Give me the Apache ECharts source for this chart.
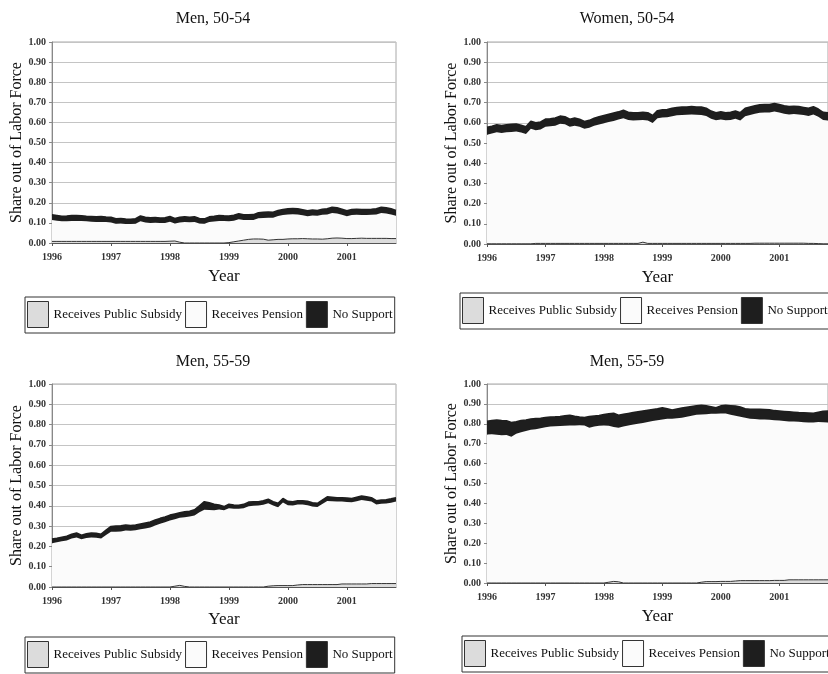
<!DOCTYPE html>
<html>
<head>
<meta charset="utf-8">
<script src="https://cdn.jsdelivr.net/npm/echarts@6/dist/echarts.min.js"></script>
<style>
  html, body { margin: 0; padding: 0; background: #ffffff; }
  #chart { width: 828px; height: 674px; }
</style>
</head>
<body>
<div id="chart"></div>
<script>
// Monthly shares of the labor force out of work, Jan 1996 - Nov 2001
const years = ['1996', '1997', '1998', '1999', '2000', '2001'];
const monthCount = 71;
const yTicks = [0, 0.1, 0.2, 0.3, 0.4, 0.5, 0.6, 0.7, 0.8, 0.9, 1.0];
const seriesNames = ['Receives Public Subsidy', 'Receives Pension', 'No Support'];
const panelTitles = ['Men, 50-54', 'Women, 50-54', 'Men, 55-59', 'Men, 55-59'];

// Men, 50-54
const men5054Subsidy = [
  .008,.008,.008,.008,.008,.008,.008,.008,.008,.008,.008,.008,
  .008,.008,.008,.008,.008,.008,.008,.008,.008,.008,.008,.008,
  .009,.010,.004,.000,.000,.000,.000,.000,.000,.000,.000,.000,
  .002,.006,.010,.014,.018,.020,.020,.019,.014,.016,.018,.018,
  .020,.021,.021,.022,.021,.020,.020,.019,.021,.024,.025,.024,
  .022,.022,.023,.024,.023,.023,.023,.023,.023,.022,.022
];
const men5054Pension = [
  .106,.103,.100,.100,.102,.102,.101,.100,.098,.097,.097,.096,
  .094,.088,.089,.087,.086,.088,.100,.094,.092,.093,.091,.092,
  .097,.087,.098,.104,.103,.104,.097,.096,.104,.107,.110,.109,
  .106,.105,.108,.100,.096,.094,.103,.106,.112,.110,.116,.121,
  .122,.122,.121,.116,.112,.117,.115,.121,.121,.125,.122,.116,
  .111,.117,.117,.115,.116,.117,.119,.126,.124,.120,.113
];
const men5054None = [
  .026,.026,.025,.026,.026,.027,.026,.025,.026,.025,.026,.025,
  .026,.024,.025,.024,.024,.025,.026,.026,.025,.026,.025,.026,
  .026,.025,.026,.026,.025,.026,.025,.024,.026,.026,.027,.026,
  .026,.027,.027,.026,.026,.027,.027,.028,.028,.027,.028,.028,
  .028,.028,.028,.027,.027,.027,.027,.028,.028,.029,.028,.028,
  .027,.028,.028,.027,.028,.028,.028,.029,.028,.028,.027
];

// Women, 50-54
const women5054Subsidy = [
  .001,.001,.001,.001,.001,.001,.001,.001,.001,.001,.003,.003,
  .003,.003,.003,.003,.003,.003,.003,.003,.003,.003,.003,.003,
  .003,.003,.003,.003,.003,.003,.003,.003,.009,.003,.003,.003,
  .003,.003,.003,.003,.003,.003,.003,.003,.003,.003,.003,.003,
  .003,.003,.003,.003,.003,.003,.003,.004,.004,.004,.004,.004,
  .004,.004,.004,.004,.004,.004,.003,.003,.002,.001,.001
];
const women5054Pension = [
  .540,.546,.552,.549,.552,.553,.556,.551,.543,.569,.560,.564,
  .577,.580,.583,.592,.590,.578,.583,.578,.567,.572,.582,.589,
  .595,.601,.606,.613,.620,.611,.609,.610,.605,.609,.596,.619,
  .623,.625,.630,.634,.636,.637,.638,.637,.636,.631,.617,.610,
  .613,.610,.611,.617,.609,.630,.636,.641,.646,.647,.647,.652,
  .647,.641,.637,.639,.637,.634,.631,.638,.628,.613,.611
];
const women5054None = [
  .037,.036,.037,.036,.037,.038,.037,.036,.036,.038,.037,.037,
  .038,.037,.038,.038,.037,.037,.038,.037,.036,.037,.037,.038,
  .038,.038,.039,.038,.039,.038,.038,.037,.038,.038,.037,.038,
  .038,.038,.039,.039,.039,.038,.039,.038,.039,.038,.038,.037,
  .038,.037,.038,.038,.038,.039,.039,.039,.039,.039,.039,.040,
  .039,.039,.039,.039,.039,.038,.038,.039,.038,.038,.038
];

// Men, 55-59 (left panel)
const men5559aSubsidy = [
  0,0,0,0,0,0,0,0,0,0,0,0,
  0,0,0,0,0,0,0,0,0,0,0,0,
  0,.004,.008,.003,0,0,0,0,0,0,0,0,
  0,0,0,0,0,0,0,0,.004,.006,.007,.007,
  .007,.007,.010,.012,.012,.012,.012,.012,.012,.012,.012,.015,
  .015,.015,.015,.015,.015,.017,.017,.017,.017,.017,.017
];
const men5559aPension = [
  .216,.220,.225,.229,.239,.244,.235,.241,.244,.243,.239,.256,
  .272,.272,.274,.278,.277,.279,.284,.288,.293,.303,.311,.319,
  .327,.330,.333,.341,.347,.352,.368,.380,.379,.378,.382,.378,
  .388,.386,.385,.388,.398,.400,.401,.405,.408,.395,.386,.409,
  .396,.394,.396,.394,.391,.385,.382,.397,.412,.411,.409,.406,
  .404,.402,.408,.413,.410,.404,.390,.393,.394,.398,.404
];
const men5559aNone = [
  .020,.020,.020,.021,.021,.022,.020,.021,.022,.021,.021,.024,
  .026,.028,.028,.027,.026,.026,.026,.027,.027,.027,.027,.026,
  .027,.026,.025,.026,.026,.028,.032,.040,.036,.030,.022,.018,
  .020,.018,.018,.019,.020,.020,.019,.020,.020,.019,.019,.020,
  .019,.019,.019,.019,.019,.018,.018,.019,.020,.019,.019,.019,
  .019,.019,.019,.020,.019,.019,.018,.018,.019,.019,.019
];

// Men, 55-59 (right panel)
const men5559bSubsidy = [
  0,0,0,0,0,0,0,0,0,0,0,0,
  0,0,0,0,0,0,0,0,0,0,0,0,
  0,.004,.008,.006,0,0,0,0,0,0,0,0,
  0,0,0,0,0,0,0,0,.004,.007,.007,.007,
  .008,.008,.008,.010,.012,.012,.012,.012,.012,.012,.012,.013,
  .013,.013,.016,.016,.016,.016,.016,.016,.016,.016,.016
];
const men5559bPension = [
  .746,.748,.745,.742,.744,.735,.750,.758,.764,.770,.772,.778,
  .783,.786,.788,.789,.790,.792,.792,.793,.791,.780,.786,.790,
  .792,.786,.776,.774,.786,.792,.796,.800,.804,.809,.814,.818,
  .822,.826,.826,.828,.830,.836,.840,.846,.843,.841,.843,.844,
  .844,.844,.838,.830,.824,.818,.814,.812,.810,.810,.808,.805,
  .803,.801,.796,.795,.794,.792,.791,.790,.793,.792,.790
];
const men5559bNone = [
  .066,.068,.074,.074,.071,.071,.060,.058,.055,.054,.054,.050,
  .049,.048,.047,.048,.050,.051,.046,.041,.040,.056,.053,.052,
  .054,.060,.069,.063,.062,.060,.060,.060,.060,.059,.058,.058,
  .059,.050,.043,.046,.049,.047,.047,.045,.046,.042,.036,.030,
  .038,.041,.045,.049,.048,.046,.047,.049,.051,.050,.050,.048,
  .048,.048,.048,.047,.046,.047,.047,.047,.049,.055,.058
];

// Month categories, labelled by year at each January
const months = [];
for (let i = 0; i < monthCount; i++) {
  const y = years[Math.floor(i / 12)];
  months.push(y + '-' + String(i % 12 + 1).padStart(2, '0'));
}

const panelData = [
  [men5054Subsidy, men5054Pension, men5054None],
  [women5054Subsidy, women5054Pension, women5054None],
  [men5559aSubsidy, men5559aPension, men5559aNone],
  [men5559bSubsidy, men5559bPension, men5559bNone]
];

// Layout of the four panels
const layout = [
  { grid: { left: 52, top: 42, width: 344, height: 201 }, titleX: 208, titleY: 6, legend: { left: 25, top: 297 }, yGap: 23, xGap: 25 },
  { grid: { left: 487, top: 42, width: 342, height: 202 }, titleX: 622, titleY: 6, legend: { left: 460, top: 293 }, yGap: 20, xGap: 25 },
  { grid: { left: 52, top: 384, width: 344, height: 203 }, titleX: 208, titleY: 349, legend: { left: 25, top: 637 }, yGap: 23, xGap: 24 },
  { grid: { left: 487, top: 384, width: 342, height: 199 }, titleX: 622, titleY: 349, legend: { left: 462, top: 636 }, yGap: 20, xGap: 25 }
];

const serif = 'Liberation Serif';
const fillColors = ['#dcdcdc', '#fbfbfb', '#1e1e1e'];
const lineColors = ['#333333', '#fbfbfb', '#1e1e1e'];
const lineWidths = [1, 0, 1.6];
// draw order: pension fill first, then the subsidy outline on top of it, then the black band
const layerZ = [4, 3, 5];

const option = {
  backgroundColor: '#ffffff',
  animation: false,
  title: layout.map((p, i) => ({
    text: panelTitles[i],
    left: p.titleX,
    top: p.titleY,
    textAlign: 'center',
    textStyle: { fontFamily: serif, fontSize: 16, fontWeight: 'normal', color: '#111' }
  })),
  legend: layout.map((p, i) => ({
    left: p.legend.left,
    top: p.legend.top,
    width: 420,
    orient: 'horizontal',
    padding: [4, 2, 5, 2],
    itemGap: 3,
    itemWidth: 21,
    itemHeight: 26,
    borderColor: '#333',
    borderWidth: 1,
    selectedMode: false,
    textStyle: { fontFamily: serif, fontSize: 13, color: '#111' },
    itemStyle: { borderColor: '#333', borderWidth: 1 },
    data: seriesNames.map((n, k) => ({ name: n, icon: 'rect', itemStyle: { color: fillColors[k], borderColor: '#333', borderWidth: 1 } }))
  })),
  grid: layout.map(p => Object.assign({ show: true, borderColor: '#a8a8a8', borderWidth: 1, backgroundColor: 'transparent' }, p.grid)),
  xAxis: layout.map((p, i) => ({
    type: 'category',
    gridIndex: i,
    data: months,
    boundaryGap: false,
    name: 'Year',
    nameLocation: 'middle',
    nameGap: p.xGap,
    nameTextStyle: { fontFamily: serif, fontSize: 17, color: '#111' },
    axisLine: { lineStyle: { color: '#555', width: 1 } },
    axisTick: { show: true, interval: 11, length: 3, lineStyle: { color: '#555' } },
    axisLabel: {
      interval: 11,
      margin: 9,
      fontFamily: serif,
      fontSize: 10,
      fontWeight: 'bold',
      color: '#333',
      formatter: v => v.slice(0, 4)
    },
    splitLine: { show: false }
  })),
  yAxis: layout.map((p, i) => ({
    type: 'value',
    gridIndex: i,
    min: yTicks[0],
    max: yTicks[yTicks.length - 1],
    interval: yTicks[1] - yTicks[0],
    name: 'Share out of Labor Force',
    nameLocation: 'middle',
    nameGap: p.yGap,
    nameRotate: 90,
    nameTextStyle: { fontFamily: serif, fontSize: 16, color: '#111' },
    axisLine: { show: true, lineStyle: { color: '#888', width: 1 } },
    axisTick: { show: true, length: 3, lineStyle: { color: '#888' } },
    axisLabel: { fontFamily: serif, fontSize: 10, fontWeight: 'bold', color: '#333', margin: 6, formatter: v => v.toFixed(2) },
    splitLine: { show: true, lineStyle: { color: '#c4c4c4', width: 1 } }
  })),
  series: []
};

panelData.forEach((arrs, i) => {
  arrs.forEach((vals, k) => {
    option.series.push({
      name: seriesNames[k],
      type: 'line',
      xAxisIndex: i,
      yAxisIndex: i,
      stack: 'panel' + i,
      data: vals,
      symbol: 'none',
      smooth: false,
      z: layerZ[k],
      lineStyle: { color: lineColors[k], width: lineWidths[k] },
      itemStyle: { color: fillColors[k] },
      areaStyle: { color: fillColors[k], opacity: 1 },
      emphasis: { disabled: true }
    });
  });
});

const chart = echarts.init(document.getElementById('chart'), null, { renderer: 'canvas' });
chart.setOption(option);
</script>
</body>
</html>
